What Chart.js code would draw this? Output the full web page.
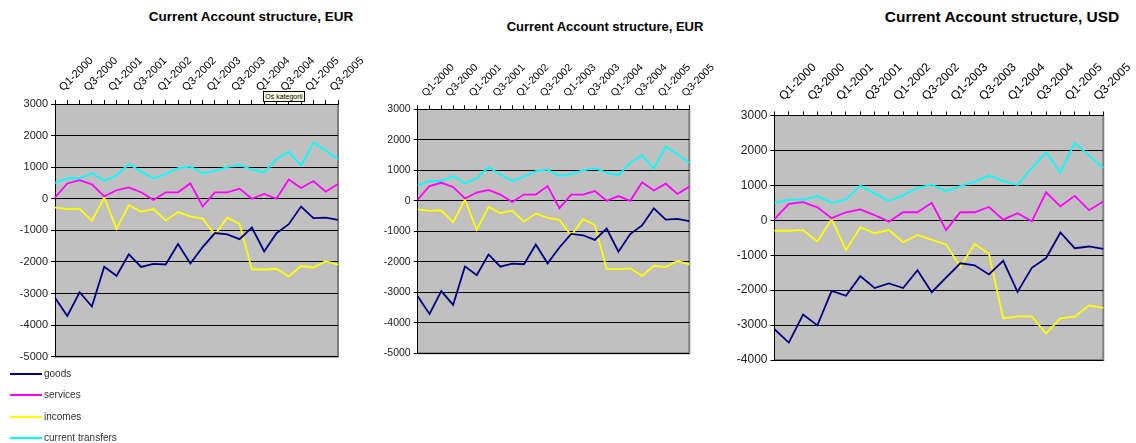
<!DOCTYPE html>
<html>
<head>
<meta charset="utf-8">
<script src="https://cdn.jsdelivr.net/npm/chart.js@4.4.1/dist/chart.umd.min.js"></script>
<style>
body{margin:0;background:#fff;width:1136px;height:443px;overflow:hidden;position:relative;font-family:"Liberation Sans",Arial,sans-serif}
canvas{position:absolute}
.title{position:absolute;width:300px;text-align:center;font-weight:bold;color:#000;white-space:nowrap}
.lg{position:absolute;left:10px;font-size:10px;line-height:12px;color:#333;white-space:nowrap}
.lg i{display:inline-block;width:32px;height:2px;vertical-align:middle;margin-right:2px}
#tip{position:absolute;left:263px;top:91px;width:40px;height:9px;background:#ffffe1;border:1px solid #000;font-size:7px;line-height:9px;text-align:center;color:#000;white-space:nowrap}
</style>
</head>
<body>
<div class="title" style="left:101px;top:9px;font-size:13.5px">Current Account structure, EUR</div>
<div class="title" style="left:455px;top:19px;font-size:13px">Current Account structure, EUR</div>
<div class="title" style="left:852px;top:8px;font-size:15.5px">Current Account structure, USD</div>

<canvas id="c1" width="365" height="366" style="left:0;top:40px"></canvas>
<canvas id="c2" width="353" height="320" style="left:362px;top:45px"></canvas>
<canvas id="c3" width="416" height="370" style="left:720px;top:40px"></canvas>

<div id="tip">Oś kategorii</div>

<script>
// ---- data ----
const quarters = ['Q1-2000','Q2-2000','Q3-2000','Q4-2000','Q1-2001','Q2-2001','Q3-2001','Q4-2001',
  'Q1-2002','Q2-2002','Q3-2002','Q4-2002','Q1-2003','Q2-2003','Q3-2003','Q4-2003',
  'Q1-2004','Q2-2004','Q3-2004','Q4-2004','Q1-2005','Q2-2005','Q3-2005','Q4-2005'];

const seriesNames = ['goods','services','incomes','current transfers'];
const seriesColors = ['#000080','#ff00ff','#ffff00','#00ffff'];

// EUR
const eurGoods = [-3130,-3710,-2960,-3410,-2150,-2440,-1760,-2160,-2060,-2080,-1430,-2050,
  -1530,-1085,-1130,-1280,-910,-1670,-1090,-805,-245,-615,-595,-665];
const eurServices = [40,485,590,455,75,270,360,205,-40,205,205,485,
  -240,205,205,320,0,155,0,610,340,560,225,465];
const eurIncomes = [-280,-330,-310,-700,40,-955,-205,-405,-325,-685,-420,-555,
  -630,-1135,-600,-795,-2235,-2240,-2215,-2460,-2130,-2175,-1975,-2085];
const eurTransfers = [500,650,650,810,570,740,1100,860,650,790,970,1020,
  810,880,1000,1070,920,840,1250,1490,1050,1780,1530,1250];

// USD
const usdGoods = [-3120,-3500,-2700,-3010,-2020,-2160,-1600,-1940,-1810,-1940,-1430,-2060,
  -1640,-1230,-1290,-1550,-1160,-2050,-1360,-1080,-350,-800,-750,-820];
const usdServices = [30,470,520,370,60,230,310,150,-40,230,230,500,
  -280,230,230,380,20,200,-30,800,400,700,290,540];
const usdIncomes = [-300,-300,-280,-610,30,-850,-200,-370,-280,-630,-420,-560,
  -690,-1330,-680,-960,-2810,-2750,-2750,-3240,-2810,-2760,-2440,-2510];
const usdTransfers = [500,590,590,690,500,600,990,770,550,720,930,1020,
  840,980,1100,1280,1130,1010,1500,1940,1370,2220,1850,1500];

const FONT = '"Liberation Sans", Arial, sans-serif';

// grey plot area with the darker right/bottom frame
const plotBg = {
  id:'plotBg',
  beforeDraw(chart){
    const {ctx, chartArea:a} = chart;
    ctx.save();
    ctx.fillStyle = '#c0c0c0';
    ctx.fillRect(a.left, a.top, a.width, a.height);
    ctx.strokeStyle = '#808080';
    ctx.lineWidth = 2;
    ctx.beginPath();
    ctx.moveTo(a.right, a.top);
    ctx.lineTo(a.right, a.bottom);
    ctx.lineTo(a.left, a.bottom);
    ctx.stroke();
    ctx.restore();
  }
};

function makeChart(id, series, opt){
  return new Chart(document.getElementById(id), {
    type:'line',
    data:{
      labels:quarters,
      datasets:series.map((d,i)=>({
        label:seriesNames[i], data:d, borderColor:seriesColors[i], backgroundColor:seriesColors[i],
        borderWidth:1.8, pointRadius:0, tension:0, fill:false
      }))
    },
    options:{
      responsive:false, animation:false, events:[],
      layout:{padding:{left:0, top:0, right:opt.padR, bottom:opt.padB}},
      plugins:{legend:{display:false}, tooltip:{enabled:false}, title:{display:false}},
      scales:{
        x:{
          position:'top', offset:false,
          grid:{drawOnChartArea:false, drawTicks:true, tickLength:4, color:'#000'},
          border:{color:'#000', width:1},
          ticks:{autoSkip:false, minRotation:45, maxRotation:45, padding:opt.xPad, labelOffset:opt.xOff,
            color:'#000', font:{family:FONT, size:opt.fs},
            callback:(v,i)=> i%2===0 ? quarters[i] : ''},
          afterFit:s=>{ s.height = opt.axH; s.paddingLeft = 0; s.paddingRight = 0; }
        },
        y:{
          min:opt.min, max:3000,
          grid:{color:'#000', tickLength:4},
          border:{color:'#000', width:1},
          ticks:{stepSize:1000, padding:3, color:'#222', font:{family:FONT, size:opt.fs},
            callback:v=>String(v)},
          afterFit:s=>{ s.width = opt.axW; s.paddingTop = 0; s.paddingBottom = 0; }
        }
      }
    },
    plugins:[plotBg]
  });
}

makeChart('c1', [eurGoods, eurServices, eurIncomes, eurTransfers],
  {min:-5000, fs:11, axW:55, axH:64, padR:27, padB:49.3, xPad:6, xOff:15.5});
makeChart('c2', [eurGoods, eurServices, eurIncomes, eurTransfers],
  {min:-5000, fs:10.5, axW:55.7, axH:64.3, padR:25.7, padB:11.7, xPad:6, xOff:15});
makeChart('c3', [usdGoods, usdServices, usdIncomes, usdTransfers],
  {min:-4000, fs:12, axW:54.5, axH:75.5, padR:32.7, padB:50, xPad:8, xOff:17});

// legend of the first chart
const legendY = [374, 395, 417, 438];
seriesNames.forEach((n,i)=>{
  const d = document.createElement('div');
  d.className = 'lg';
  d.style.top = (legendY[i]-6)+'px';
  d.innerHTML = '<i style="background:'+seriesColors[i]+'"></i>'+n;
  document.body.appendChild(d);
});
</script>
</body>
</html>
